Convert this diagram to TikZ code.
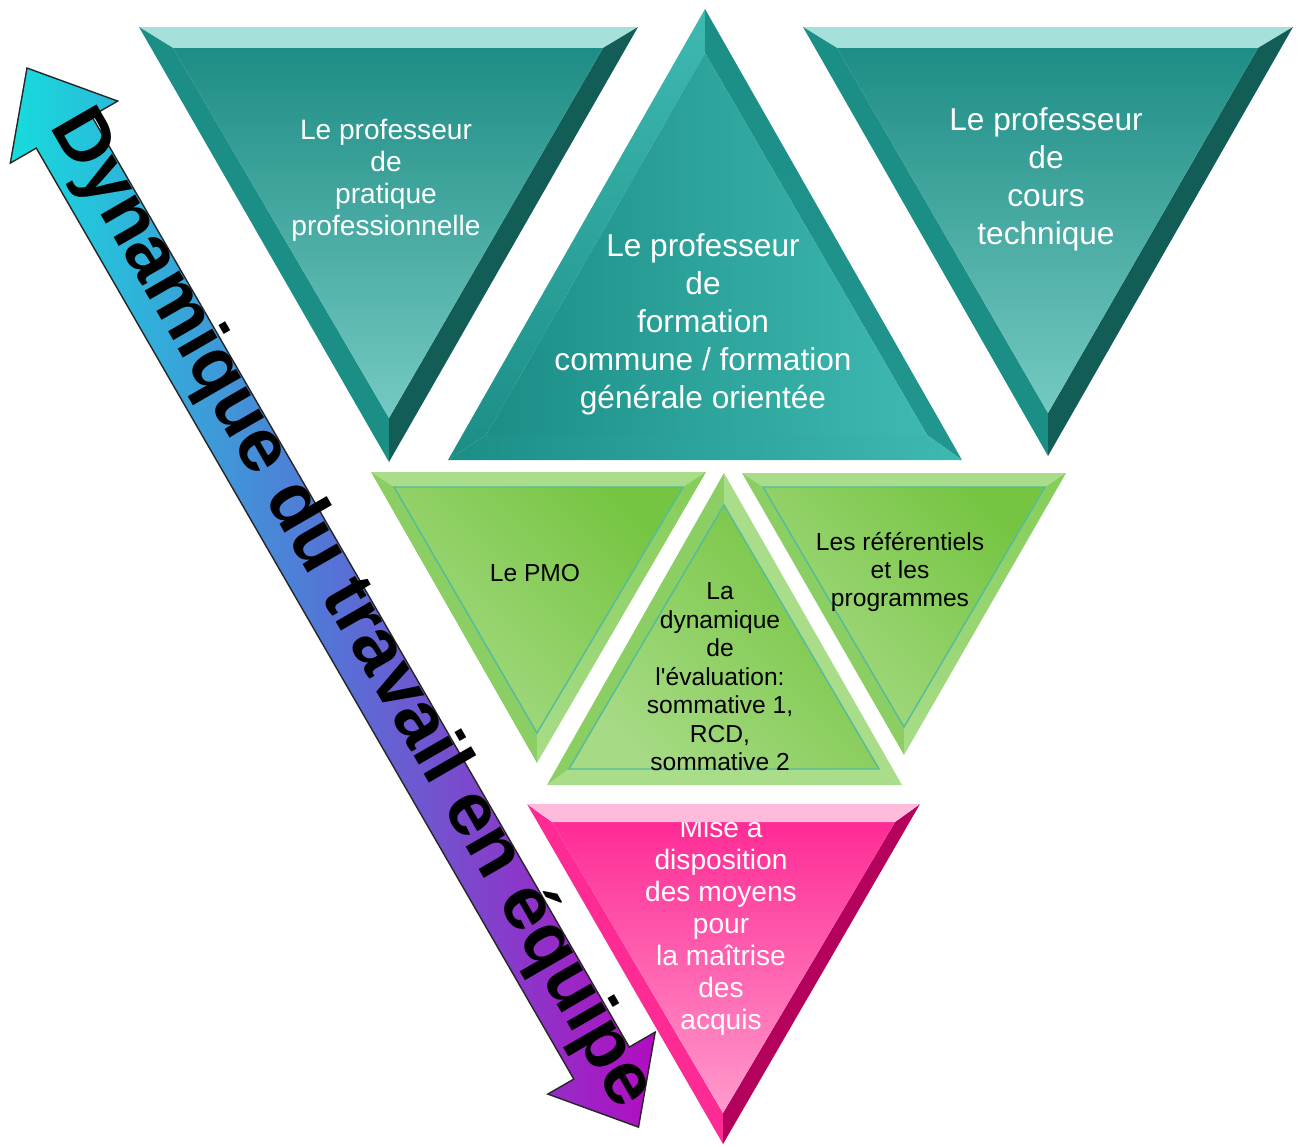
\documentclass[tikz,border=0pt]{standalone}
\usepackage{fontspec}
\setmainfont{Liberation Sans}

\definecolor{tealLight}{HTML}{A5E0DB}
\definecolor{tealMid}{HTML}{1B8E86}
\definecolor{tealDark}{HTML}{135D57}
\definecolor{tealTop}{HTML}{1E8D85}
\definecolor{tealBottom}{HTML}{75CAC2}
\definecolor{tealBright}{HTML}{3EB9B1}
\definecolor{greenLight}{HTML}{A9DD8A}
\definecolor{greenMid}{HTML}{8BCE63}
\definecolor{greenDark}{HTML}{76C542}
\definecolor{greenPale}{HTML}{A6DA84}
\definecolor{greenEdge}{HTML}{52BC9C}
\definecolor{pinkLight}{HTML}{FFBBDC}
\definecolor{pinkMid}{HTML}{FF2B95}
\definecolor{pinkDark}{HTML}{B4025C}
\definecolor{pinkPale}{HTML}{FF9BCC}
\definecolor{dynCyan}{HTML}{16DCDC}
\definecolor{dynBlue}{HTML}{5573D6}
\definecolor{dynPurple}{HTML}{B20CC0}

\begin{document}
\begin{tikzpicture}[
    tealband/.style={fill=tealLight},
    tealside/.style={fill=tealMid},
    tealshadow/.style={fill=tealDark},
    tealface/.style={top color=tealTop, bottom color=tealBottom},
    greenband/.style={fill=greenLight},
    greenside/.style={fill=greenMid},
    greenshine/.style={top color=greenDark!70!greenLight, bottom color=greenLight},
    greenface/.style={top color=greenDark, bottom color=greenPale, shading angle=-45, draw=greenEdge, line width=0.4pt},
    whitetext/.style={text=white, align=center, inner sep=0pt},
    blacktext/.style={text=black, align=center, inner sep=0pt, font=\fontsize{7}{8.1}\selectfont},
    dynarrow/.style={left color=dynCyan, right color=dynPurple, middle color=dynBlue, draw=black!85, line width=0.4pt},
  ]
    \useasboundingbox (0,0) rectangle (13,-11.46);

    % Draw the teal triangle on the left
    \fill[tealband] (1.39,-0.27) -- (6.38,-0.27) -- (6.03,-0.48) -- (1.73,-0.48) -- cycle;
    \fill[tealside] (1.39,-0.27) -- (1.73,-0.48) -- (3.89,-4.18) -- (3.89,-4.62) -- cycle;
    \fill[tealshadow] (6.38,-0.27) -- (3.89,-4.62) -- (3.89,-4.18) -- (6.03,-0.48) -- cycle;
    \shade[tealface] (1.73,-0.48) -- (6.03,-0.48) -- (3.89,-4.18) -- cycle;
    \node[whitetext, font=\fontsize{8}{9.1}\selectfont] (pratique) at (3.86,-1.80)
        {Le professeur\\de\\pratique\\professionnelle};

    % Draw the teal triangle in the middle
    \shade[top color=tealBright, bottom color=tealMid] (7.05,-0.09) -- (7.05,-0.53) -- (4.86,-4.35) -- (4.48,-4.60) -- cycle;
    \shade[top color=tealMid, bottom color=tealMid!80!tealBright] (7.05,-0.09) -- (9.62,-4.60) -- (9.27,-4.35) -- (7.05,-0.53) -- cycle;
    \shade[left color=tealMid, right color=tealBright] (4.48,-4.60) -- (9.62,-4.60) -- (9.27,-4.35) -- (4.86,-4.35) -- cycle;
    \shade[left color=tealMid, right color=tealBright] (7.05,-0.53) -- (4.86,-4.35) -- (9.27,-4.35) -- cycle;
    \node[whitetext, font=\fontsize{9}{10.8}\selectfont] (commune) at (7.03,-3.24)
        {Le professeur\\de\\formation\\commune / formation\\générale orientée};

    % Draw the teal triangle on the right
    \fill[tealband] (8.03,-0.27) -- (12.93,-0.27) -- (12.58,-0.48) -- (8.37,-0.48) -- cycle;
    \fill[tealside] (8.03,-0.27) -- (8.37,-0.48) -- (10.48,-4.13) -- (10.48,-4.56) -- cycle;
    \fill[tealshadow] (12.93,-0.27) -- (10.48,-4.56) -- (10.48,-4.13) -- (12.58,-0.48) -- cycle;
    \shade[tealface] (8.37,-0.48) -- (12.58,-0.48) -- (10.48,-4.13) -- cycle;
    \node[whitetext, font=\fontsize{9}{10.8}\selectfont] (technique) at (10.46,-1.79)
        {Le professeur\\de\\cours\\technique};

    % Draw the green triangle on the left
    \fill[greenband] (3.71,-4.72) -- (7.06,-4.72) -- (6.83,-4.87) -- (3.94,-4.87) -- cycle;
    \fill[greenside] (3.71,-4.72) -- (3.94,-4.87) -- (5.37,-7.33) -- (5.37,-7.63) -- cycle;
    \shade[greenshine] (7.06,-4.72) -- (5.37,-7.63) -- (5.37,-7.33) -- (6.83,-4.87) -- cycle;
    \shade[greenface] (3.94,-4.87) -- (6.83,-4.87) -- (5.37,-7.33) -- cycle;
    \node[blacktext] (pmo) at (5.35,-5.73) {Le PMO};

    % Draw the green triangle in the middle
    \fill[greenside] (7.24,-4.73) -- (7.24,-5.05) -- (5.69,-7.69) -- (5.47,-7.85) -- cycle;
    \fill[greenband] (7.24,-4.73) -- (9.02,-7.85) -- (8.79,-7.69) -- (7.24,-5.05) -- cycle;
    \fill[greenband] (5.47,-7.85) -- (9.02,-7.85) -- (8.79,-7.69) -- (5.69,-7.69) -- cycle;
    \shade[greenface] (7.24,-5.05) -- (5.69,-7.69) -- (8.79,-7.69) -- cycle;
    \node[blacktext] (evaluation) at (7.20,-6.77)
        {La\\dynamique\\de\\l\textquotesingle évaluation:\\sommative 1,\\RCD,\\sommative 2};

    % Draw the green triangle on the right
    \fill[greenband] (7.42,-4.73) -- (10.66,-4.73) -- (10.45,-4.87) -- (7.63,-4.87) -- cycle;
    \fill[greenside] (7.42,-4.73) -- (7.63,-4.87) -- (9.04,-7.27) -- (9.04,-7.55) -- cycle;
    \shade[greenshine] (10.66,-4.73) -- (9.04,-7.55) -- (9.04,-7.27) -- (10.45,-4.87) -- cycle;
    \shade[greenface] (7.63,-4.87) -- (10.45,-4.87) -- (9.04,-7.27) -- cycle;
    \node[blacktext] (referentiels) at (9.00,-5.72) {Les référentiels\\et les\\programmes};

    % Draw the pink triangle at the bottom
    \fill[pinkMid] (5.27,-8.04) -- (5.52,-8.22) -- (7.23,-11.13) -- (7.23,-11.44) -- cycle;
    \fill[pinkDark] (9.20,-8.04) -- (7.23,-11.44) -- (7.23,-11.13) -- (8.95,-8.22) -- cycle;
    \shade[top color=pinkMid, bottom color=pinkPale] (5.52,-8.22) -- (8.95,-8.22) -- (7.23,-11.13) -- cycle;
    \node[whitetext, font=\fontsize{8}{9.1}\selectfont] (moyens) at (7.21,-9.26)
        {Mise a\\disposition\\des moyens\\pour\\la maîtrise\\des\\acquis};
    \fill[pinkLight] (5.27,-8.04) -- (9.20,-8.04) -- (8.95,-8.22) -- (5.52,-8.22) -- cycle;

    % Draw the double arrow along the left side
    \begin{scope}[shift={(0.27,-0.68)}, rotate=-60]
        \shade[dynarrow] (0,0) -- (0.74,0.62) -- (0.74,0.32) -- (11.49,0.32) -- (11.49,0.62)
            -- (12.23,0) -- (11.49,-0.62) -- (11.49,-0.32) -- (0.74,-0.32) -- (0.74,-0.62) -- cycle;
        \node[anchor=mid, rotate=-60, inner sep=0pt, font=\bfseries\fontsize{21.5}{26}\selectfont] (dynamique) at (6.31,0)
            {Dynamique du travail en équipe};
    \end{scope}
\end{tikzpicture}
\end{document}
